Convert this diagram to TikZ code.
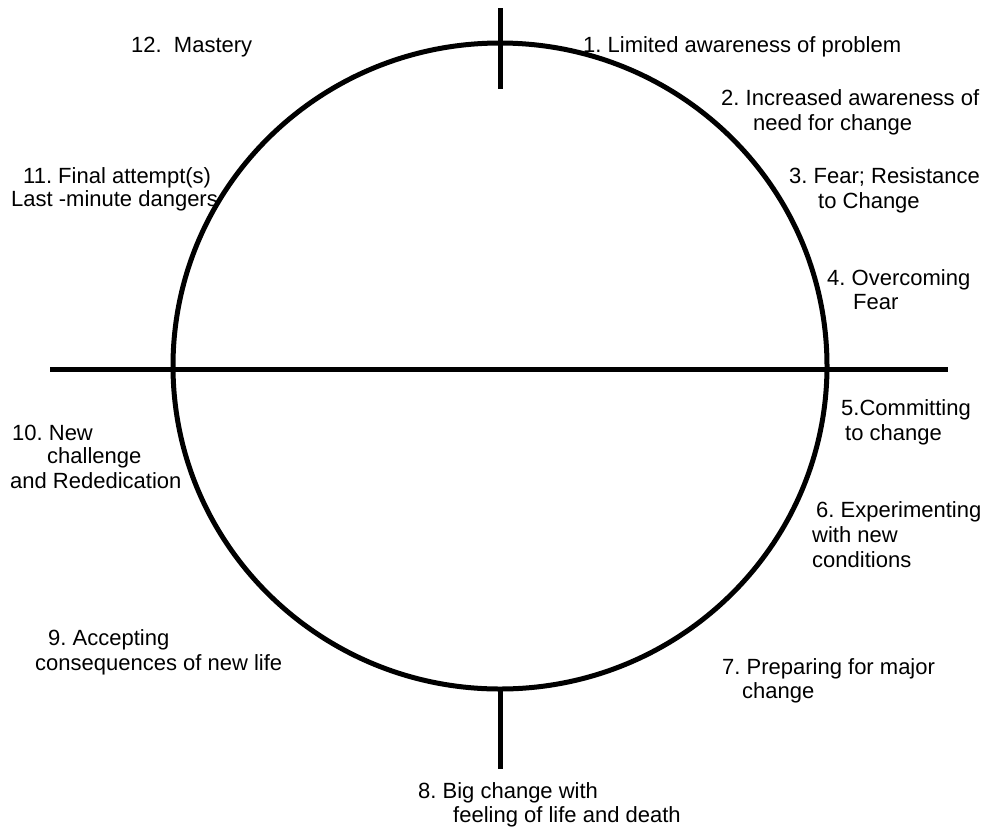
\documentclass[tikz,border=0pt]{standalone}
\usepackage{fontspec}
\setmainfont{Liberation Sans}
\frenchspacing
\begin{document}
\begin{tikzpicture}[x=1pt,y=-1pt,
  lbl/.style={anchor=base west,inner sep=0pt,font=\fontsize{22}{26}\selectfont},
  heavy/.style={line width=5pt}]
\useasboundingbox (0,0) rectangle (998,831);
\coordinate (c) at (500,366);
\coordinate (hl) at (50,369);
\coordinate (hr) at (948,369);
\coordinate (tt) at (500,8);
\coordinate (tb) at (500,89);
\coordinate (bt) at (500,689);
\coordinate (bb) at (500,769);
\draw[heavy] (c) ellipse [x radius=327, y radius=323];
\draw[heavy] (hl) -- (hr);
\draw[heavy] (tt) -- (tb);
\draw[heavy] (bt) -- (bb);
% labels
\node[lbl] (l12) at (131,52) {12.\ \ Mastery};
\node[lbl] (l1) at (583,52) {1. Limited awareness of problem};
\node[lbl] (l2a) at (721,105) {2. Increased awareness of};
\node[lbl] (l2b) at (753,130) {need for change};
\node[lbl] (l3a) at (789,183) {3. Fear; Resistance};
\node[lbl] (l3b) at (818,208) {to Change};
\node[lbl] (l4a) at (827,285) {4. Overcoming};
\node[lbl] (l4b) at (853,309) {Fear};
\node[lbl] (l5a) at (841,415) {5.Committing};
\node[lbl] (l5b) at (845,440) {to change};
\node[lbl] (l6a) at (816,517) {6. Experimenting};
\node[lbl] (l6b) at (812,542) {with new};
\node[lbl] (l6c) at (812,567) {conditions};
\node[lbl] (l7a) at (722,674) {7. Preparing for major};
\node[lbl] (l7b) at (742,698) {change};
\node[lbl] (l8a) at (418,798) {8. Big change with};
\node[lbl] (l8b) at (453,822) {feeling of life and death};
\node[lbl] (l9a) at (48,645) {9. Accepting};
\node[lbl] (l9b) at (35,670) {consequences of new life};
\node[lbl] (l10a) at (12,440) {10. New};
\node[lbl] (l10b) at (47,463) {challenge};
\node[lbl] (l10c) at (10,488) {and Rededication};
\node[lbl] (l11a) at (23,183) {11. Final attempt(s)};
\node[lbl] (l11b) at (11,206) {Last -minute dangers};
\end{tikzpicture}
\end{document}
